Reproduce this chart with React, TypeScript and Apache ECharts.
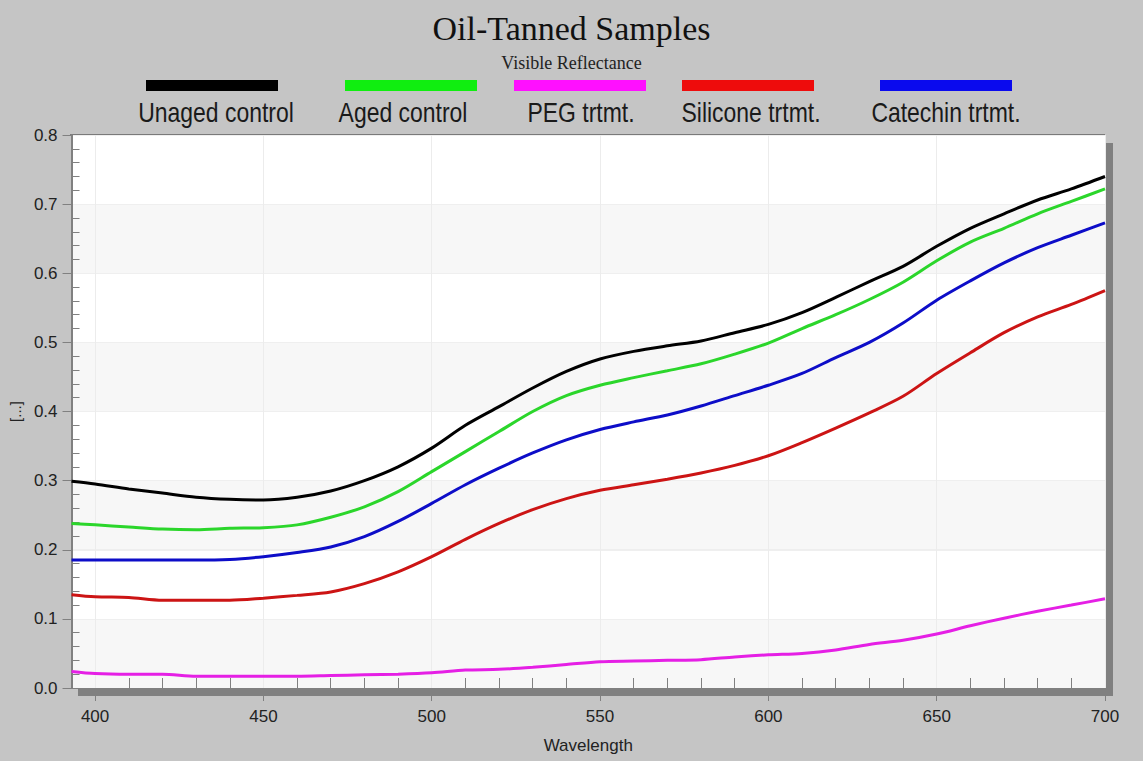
import React, { useEffect, useRef } from "react";
import * as echarts from "echarts";

const wavelengths = [393, 400, 410, 420, 430, 440, 450, 460, 470, 480, 490, 500, 510, 520, 530, 540, 550, 560, 570, 580, 590, 600, 610, 620, 630, 640, 650, 660, 670, 680, 690, 700];
const unagedControl = [0.299, 0.295, 0.288, 0.282, 0.276, 0.273, 0.272, 0.276, 0.285, 0.300, 0.320, 0.347, 0.380, 0.407, 0.434, 0.458, 0.476, 0.487, 0.495, 0.502, 0.514, 0.526, 0.543, 0.565, 0.588, 0.610, 0.639, 0.665, 0.686, 0.706, 0.722, 0.740];
const agedControl = [0.238, 0.236, 0.233, 0.230, 0.229, 0.231, 0.232, 0.236, 0.247, 0.262, 0.284, 0.313, 0.342, 0.371, 0.400, 0.423, 0.438, 0.449, 0.459, 0.469, 0.483, 0.499, 0.520, 0.540, 0.562, 0.587, 0.618, 0.645, 0.665, 0.686, 0.704, 0.722];
const pegTreatment = [0.024, 0.021, 0.020, 0.020, 0.017, 0.017, 0.017, 0.017, 0.018, 0.019, 0.020, 0.022, 0.026, 0.027, 0.030, 0.034, 0.038, 0.039, 0.040, 0.041, 0.045, 0.048, 0.050, 0.055, 0.063, 0.069, 0.078, 0.090, 0.101, 0.111, 0.120, 0.129];
const siliconeTreatment = [0.135, 0.132, 0.131, 0.127, 0.127, 0.127, 0.130, 0.134, 0.139, 0.151, 0.168, 0.190, 0.215, 0.238, 0.258, 0.274, 0.286, 0.294, 0.302, 0.311, 0.322, 0.336, 0.355, 0.376, 0.398, 0.422, 0.455, 0.485, 0.514, 0.537, 0.555, 0.575];
const catechinTreatment = [0.185, 0.185, 0.185, 0.185, 0.185, 0.186, 0.190, 0.196, 0.204, 0.219, 0.241, 0.267, 0.294, 0.318, 0.340, 0.359, 0.374, 0.385, 0.395, 0.408, 0.423, 0.438, 0.455, 0.478, 0.500, 0.528, 0.561, 0.589, 0.615, 0.637, 0.655, 0.673];

const seriesNames = ["Unaged control", "Aged control", "PEG trtmt.", "Silicone trtmt.", "Catechin trtmt."];
const seriesValues = [unagedControl, agedControl, pegTreatment, siliconeTreatment, catechinTreatment];

const lineColors = ["#000000", "#2bd62b", "#e51fe5", "#cc1414", "#0d0dc8"];
const swatchColors = ["#000000", "#10ee10", "#ff10ff", "#ee0c0c", "#0a0aee"];
const legendCenters = [212, 411, 580, 748, 946];
const legendTextCenters = [216, 403, 581, 751, 946];

const xMin = 393;
const xMax = 700;
const minorXTicks: number[] = [];
for (let v = 410; v < 700; v += 10) {
  if (v % 50 !== 0) minorXTicks.push(v);
}

const PLOT = { left: 70, top: 135, right: 1105, bottom: 688 };

export default function App() {
  const ref = useRef<HTMLDivElement>(null);

  useEffect(() => {
    if (!ref.current) return;
    const chart = echarts.init(ref.current, undefined, { renderer: "svg" });

    const legendGraphics: any[] = [];
    seriesNames.forEach((name, i) => {
      legendGraphics.push({
        type: "rect",
        shape: { x: legendCenters[i] - 66, y: 80, width: 132, height: 11 },
        style: { fill: swatchColors[i] },
        silent: true,
      });
      legendGraphics.push({
        type: "text",
        x: legendTextCenters[i],
        y: 112,
        scaleX: 0.82,
        style: {
          text: name,
          x: 0,
          y: 0,
          textAlign: "center",
          textVerticalAlign: "middle",
          fontFamily: "Liberation Sans, Arial, sans-serif",
          fontSize: 28,
          fill: "#1a1a1a",
        },
        silent: true,
      });
    });

    const option: any = {
      animation: false,
      backgroundColor: "#c5c5c5",
      title: [
        {
          text: "Oil-Tanned Samples",
          left: "center",
          top: 6,
          textStyle: {
            fontFamily: "Liberation Serif, Times New Roman, serif",
            fontSize: 34,
            fontWeight: "normal",
            color: "#111",
          },
        },
        {
          text: "Visible Reflectance",
          left: "center",
          top: 49,
          textStyle: {
            fontFamily: "Liberation Serif, Times New Roman, serif",
            fontSize: 18,
            fontWeight: "normal",
            color: "#222",
          },
        },
      ],
      grid: {
        left: PLOT.left,
        top: PLOT.top,
        right: 1143 - PLOT.right,
        bottom: 761 - PLOT.bottom,
        containLabel: false,
      },
      xAxis: [
        {
          type: "value",
          position: "bottom",
          min: xMin,
          max: xMax,
          splitNumber: 6,
          name: "Wavelength",
          nameLocation: "middle",
          nameGap: 49,
          nameTextStyle: { fontFamily: "Liberation Sans, Arial, sans-serif", fontSize: 17, color: "#222" },
          axisLine: { show: true, lineStyle: { color: "#808080", width: 1 } },
          axisTick: { show: true, length: 13, lineStyle: { color: "#808080" } },
          axisLabel: {
            showMinLabel: false,
            margin: 20,
            fontFamily: "Liberation Sans, Arial, sans-serif",
            fontSize: 17,
            color: "#222",
          },
          splitLine: { show: true, lineStyle: { color: "#ececec", width: 1 } },
        },
        {
          type: "value",
          position: "bottom",
          min: xMin,
          max: xMax,
          splitNumber: 6,
          axisLine: { show: false },
          axisLabel: { show: false },
          splitLine: { show: false },
          axisTick: {
            show: true,
            inside: true,
            length: 10,
            customValues: minorXTicks,
            lineStyle: { color: "#808080", width: 1 },
          },
        },
      ],
      yAxis: [
        {
          type: "value",
          position: "left",
          min: 0,
          max: 0.8,
          interval: 0.1,
          name: "[...]",
          nameLocation: "middle",
          nameRotate: 90,
          nameGap: 48,
          nameTextStyle: { fontFamily: "Liberation Sans, Arial, sans-serif", fontSize: 15, color: "#222" },
          axisLine: { show: true, lineStyle: { color: "#808080", width: 2 } },
          axisTick: { show: true, length: 9, lineStyle: { color: "#808080" } },
          axisLabel: {
            margin: 14,
            formatter: (v: number) => v.toFixed(1),
            fontFamily: "Liberation Sans, Arial, sans-serif",
            fontSize: 17,
            color: "#222",
          },
          splitLine: { show: true, lineStyle: { color: "#efefef", width: 1 } },
          splitArea: { show: true, areaStyle: { color: ["#f7f7f7", "#ffffff"] } },
        },
        {
          type: "value",
          position: "left",
          min: 0,
          max: 0.8,
          interval: 0.1,
          axisLine: { show: false },
          axisLabel: { show: false },
          splitLine: { show: false },
          axisTick: { show: false, inside: true },
          minorTick: { show: true, splitNumber: 5, length: 8, lineStyle: { color: "#808080", width: 1 } },
        },
      ],
      graphic: [
        {
          type: "rect",
          shape: { x: PLOT.left + 8, y: PLOT.bottom, width: PLOT.right - PLOT.left, height: 8 },
          style: { fill: "#808080" },
          silent: true,
        },
        {
          type: "rect",
          shape: { x: PLOT.right, y: PLOT.top + 8, width: 8, height: PLOT.bottom - PLOT.top },
          style: { fill: "#808080" },
          silent: true,
        },
        {
          type: "line",
          shape: { x1: PLOT.left, y1: PLOT.top, x2: PLOT.right, y2: PLOT.top },
          style: { stroke: "#7a7a7a", lineWidth: 2 },
          silent: true,
        },
        ...legendGraphics,
      ],
      series: seriesNames.map((name, i) => ({
        name,
        type: "line",
        xAxisIndex: 0,
        yAxisIndex: 0,
        data: wavelengths.map((w, j) => [w, seriesValues[i][j]]),
        showSymbol: false,
        smooth: 0.3,
        lineStyle: { color: lineColors[i], width: 3 },
        itemStyle: { color: lineColors[i] },
        z: 5,
      })),
    };

    chart.setOption(option);
    return () => {
      chart.dispose();
    };
  }, []);

  return (
    <div
      ref={ref}
      style={{ position: "fixed", left: 0, top: 0, width: 1143, height: 761 }}
    />
  );
}
